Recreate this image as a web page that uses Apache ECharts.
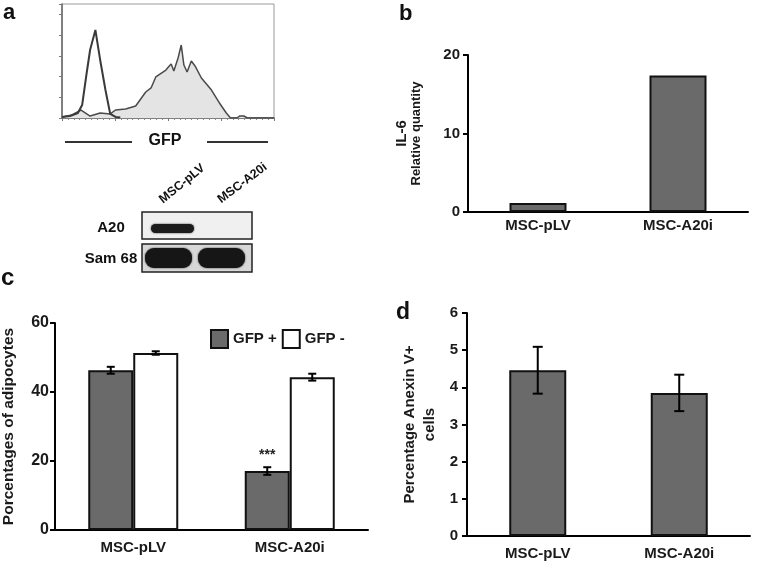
<!DOCTYPE html>
<html>
<head>
<meta charset="utf-8">
<script src="https://cdn.jsdelivr.net/npm/echarts@6/dist/echarts.min.js"></script>
<style>html,body{margin:0;padding:0;background:#fff}#c{width:757px;height:562px}</style>
</head>
<body>
<div id="c"></div>
<script>
// ---- Panel a: GFP flow histogram (x in log decades, y in counts) ----
const gfpDecade = [0, 0.19, 0.36, 0.53, 0.72, 0.91, 1.01, 1.2, 1.39, 1.58, 1.68, 1.77, 1.96, 2.02, 2.06, 2.11, 2.19, 2.25, 2.30, 2.36, 2.44, 2.51, 2.63, 2.82, 2.97, 3.10, 3.18, 3.30, 3.35, 3.43, 3.50, 4.0];
const gfpCount  = [10, 29, 77, 19, 48, 39, 77, 87, 116, 251, 290, 396, 463, 500, 521, 453, 579, 704, 511, 444, 550, 502, 386, 270, 145, 48, 0, 0, 19, 19, 0, 0];
const ctrlDecade = [0, 0.15, 0.30, 0.38, 0.46, 0.53, 0.63, 0.72, 0.82, 0.91, 1.01, 1.1];
const ctrlCount  = [10, 19, 48, 125, 415, 656, 849, 560, 270, 39, 10, 5];

// ---- Panel b: IL-6 relative quantity ----
const groups = ['MSC-pLV', 'MSC-A20i'];
const il6 = [1.15, 17.4];

// ---- Panel c: adipocytes ----
const gfpPlus = [46.3, 17.1];
const gfpPlusErr = [1.0, 1.1];
const gfpMinus = [51.3, 44.3];
const gfpMinusErr = [0.5, 1.0];
const cSeriesNames = ['GFP +', 'GFP -'];

// ---- Panel d: Annexin V+ ----
const annexin = [4.46, 3.85];
const annexinErr = [0.63, 0.49];

const FONT = "'Liberation Sans', Arial, sans-serif";
const BAR_FILL = '#6a6a6a';

function zip(a, b) { return a.map((v, i) => [v, b[i]]); }
function errData(vals, errs) { return vals.map((v, i) => [i, v - errs[i], v + errs[i]]); }
function errRender(offset, cap) {
  return function (params, api) {
    const x = api.value(0), lo = api.value(1), hi = api.value(2);
    const pTop = api.coord([x, hi]), pBot = api.coord([x, lo]);
    const cx = pTop[0] + offset;
    const st = { stroke: '#000', lineWidth: 2 };
    return { type: 'group', children: [
      { type: 'line', shape: { x1: cx, y1: pTop[1], x2: cx, y2: pBot[1] }, style: st },
      { type: 'line', shape: { x1: cx - cap, y1: pTop[1], x2: cx + cap, y2: pTop[1] }, style: st },
      { type: 'line', shape: { x1: cx - cap, y1: pBot[1], x2: cx + cap, y2: pBot[1] }, style: st }
    ]};
  };
}

const catAxisCommon = {
  type: 'category', data: groups,
  axisLine: { lineStyle: { color: '#000', width: 2 } },
  axisTick: { show: false },
  axisLabel: { color: '#1a1a1a', fontFamily: FONT, fontWeight: 'bold', fontSize: 15, margin: 9 }
};
const valAxisCommon = {
  type: 'value',
  axisLine: { show: true, lineStyle: { color: '#000', width: 2 } },
  axisTick: { show: true, length: 5, lineStyle: { color: '#000', width: 2 } },
  splitLine: { show: false },
  axisLabel: { color: '#1a1a1a', fontFamily: FONT, fontWeight: 'bold', fontSize: 15 }
};

const chart = echarts.init(document.getElementById('c'), null, { renderer: 'canvas' });
chart.setOption({
  animation: false,
  backgroundColor: '#fff',
  textStyle: { fontFamily: FONT },
  grid: [
    { left: 62, top: 4, width: 212, height: 114, show: true, borderColor: '#9a9a9a', borderWidth: 1 },
    { left: 468, top: 55, width: 280, height: 157 },
    { left: 50, top: 323, width: 318, height: 207 },
    { left: 467, top: 313, width: 283, height: 223 }
  ],
  legend: {
    data: cSeriesNames, left: 210, top: 329, padding: 0, itemWidth: 17, itemHeight: 18, itemGap: 5,
    icon: 'rect',
    textStyle: { fontFamily: FONT, fontWeight: 'bold', fontSize: 15, color: '#1a1a1a' }
  },
  xAxis: [
    { gridIndex: 0, type: 'value', min: 0, max: 4, interval: 1,
      axisLine: { lineStyle: { color: '#666', width: 1.5 } },
      axisTick: { length: 3, lineStyle: { color: '#777' } },
      minorTick: { show: true, splitNumber: 9, length: 2, lineStyle: { color: '#888' } },
      axisLabel: { show: false }, splitLine: { show: false } },
    Object.assign({ gridIndex: 1 }, catAxisCommon, { axisLabel: Object.assign({}, catAxisCommon.axisLabel, { margin: 6 }) }),
    Object.assign({ gridIndex: 2 }, catAxisCommon, { axisLabel: Object.assign({}, catAxisCommon.axisLabel, { margin: 10 }) }),
    Object.assign({ gridIndex: 3 }, catAxisCommon, { axisLabel: Object.assign({}, catAxisCommon.axisLabel, { margin: 10 }) })
  ],
  yAxis: [
    { gridIndex: 0, type: 'value', min: 0, max: 1100, interval: 200,
      axisLine: { show: true, lineStyle: { color: '#666', width: 1.5 } },
      axisTick: { show: true, length: 3, lineStyle: { color: '#777' } },
      axisLabel: { show: false }, splitLine: { show: false } },
    Object.assign({ gridIndex: 1 }, valAxisCommon, {
      min: 0, max: 20, interval: 10,
      axisLabel: Object.assign({}, valAxisCommon.axisLabel, { margin: 8 }),
      name: '{a|IL-6}\n{b|Relative quantity}', nameLocation: 'middle', nameGap: 45, nameRotate: 90,
      nameTextStyle: { color: '#1a1a1a', rich: {
        a: { fontFamily: FONT, fontWeight: 'bold', fontSize: 15, lineHeight: 14, color: '#1a1a1a' },
        b: { fontFamily: FONT, fontWeight: 'bold', fontSize: 13, lineHeight: 14, color: '#1a1a1a' } } }
    }),
    Object.assign({ gridIndex: 2 }, valAxisCommon, {
      min: 0, max: 60, interval: 20,
      axisLabel: Object.assign({}, valAxisCommon.axisLabel, { fontSize: 16, margin: 6 }),
      name: 'Porcentages of adipocytes', nameLocation: 'middle', nameGap: 38, nameRotate: 90,
      nameTextStyle: { fontFamily: FONT, fontWeight: 'bold', fontSize: 15.5, color: '#1a1a1a' }
    }),
    Object.assign({ gridIndex: 3 }, valAxisCommon, {
      min: 0, max: 6, interval: 1,
      axisLabel: Object.assign({}, valAxisCommon.axisLabel, { margin: 9 }),
      name: 'Percentage Anexin V+\ncells', nameLocation: 'middle', nameGap: 27, nameRotate: 90,
      nameTextStyle: { fontFamily: FONT, fontWeight: 'bold', fontSize: 15, lineHeight: 20, color: '#1a1a1a' }
    })
  ],
  series: [
    { type: 'line', xAxisIndex: 0, yAxisIndex: 0, data: zip(gfpDecade, gfpCount), symbol: 'none',
      lineStyle: { color: '#4a4a4a', width: 1.5 }, areaStyle: { color: '#e4e4e4', opacity: 1 }, z: 2 },
    { type: 'line', xAxisIndex: 0, yAxisIndex: 0, data: zip(ctrlDecade, ctrlCount), symbol: 'none',
      lineStyle: { color: '#3a3a3a', width: 2 }, z: 3 },

    { type: 'bar', xAxisIndex: 1, yAxisIndex: 1, data: il6, barWidth: 57,
      itemStyle: { color: BAR_FILL, borderColor: '#111', borderWidth: 2 } },

    { name: cSeriesNames[0], type: 'bar', xAxisIndex: 2, yAxisIndex: 2, barWidth: 45, barGap: '0%',
      itemStyle: { color: BAR_FILL, borderColor: '#111', borderWidth: 2 },
      data: gfpPlus.map((v, i) => i === 1 ? { value: v, label: { show: true, position: 'top', distance: 9, formatter: '***',
        fontFamily: FONT, fontWeight: 'bold', fontSize: 14, color: '#222' } } : v) },
    { name: cSeriesNames[1], type: 'bar', xAxisIndex: 2, yAxisIndex: 2, barWidth: 45, barGap: '0%',
      itemStyle: { color: '#fff', borderColor: '#111', borderWidth: 2 }, data: gfpMinus },
    { type: 'custom', xAxisIndex: 2, yAxisIndex: 2, renderItem: errRender(-22.5, 4), encode: { x: 0, y: [1, 2] },
      data: errData(gfpPlus, gfpPlusErr), z: 5 },
    { type: 'custom', xAxisIndex: 2, yAxisIndex: 2, renderItem: errRender(22.5, 4), encode: { x: 0, y: [1, 2] },
      data: errData(gfpMinus, gfpMinusErr), z: 5 },

    { type: 'bar', xAxisIndex: 3, yAxisIndex: 3, data: annexin, barWidth: 57,
      itemStyle: { color: BAR_FILL, borderColor: '#111', borderWidth: 2 } },
    { type: 'custom', xAxisIndex: 3, yAxisIndex: 3, renderItem: errRender(0, 5), encode: { x: 0, y: [1, 2] },
      data: errData(annexin, annexinErr), z: 5 }
  ],
  graphic: [
    // panel letters
    { type: 'text', x: 3, y: 2, style: { text: 'a', font: 'bold 22px ' + FONT, fill: '#111' } },
    { type: 'text', x: 399, y: 3, style: { text: 'b', font: 'bold 22px ' + FONT, fill: '#111' } },
    { type: 'text', x: 1, y: 266, style: { text: 'c', font: 'bold 24px ' + FONT, fill: '#111' } },
    { type: 'text', x: 396, y: 301, style: { text: 'd', font: 'bold 23px ' + FONT, fill: '#111' } },
    // GFP axis caption
    { type: 'line', shape: { x1: 65, y1: 142, x2: 132, y2: 142 }, style: { stroke: '#333', lineWidth: 2 } },
    { type: 'line', shape: { x1: 207, y1: 142, x2: 268, y2: 142 }, style: { stroke: '#333', lineWidth: 2 } },
    { type: 'text', x: 165, y: 141, style: { text: 'GFP', font: 'bold 16px ' + FONT, fill: '#111', align: 'center', verticalAlign: 'middle' } },
    // western blot lane labels
    { type: 'text', x: 165, y: 206, rotation: 39 * Math.PI / 180,
      style: { text: 'MSC-pLV', font: 'bold 12.5px ' + FONT, fill: '#111', align: 'left', verticalAlign: 'bottom' } },
    { type: 'text', x: 223, y: 206, rotation: 37 * Math.PI / 180,
      style: { text: 'MSC-A20i', font: 'bold 12.5px ' + FONT, fill: '#111', align: 'left', verticalAlign: 'bottom' } },
    // blot row labels
    { type: 'text', x: 111, y: 228, style: { text: 'A20', font: 'bold 15px ' + FONT, fill: '#111', align: 'center', verticalAlign: 'middle' } },
    { type: 'text', x: 111, y: 259, style: { text: 'Sam 68', font: 'bold 15px ' + FONT, fill: '#111', align: 'center', verticalAlign: 'middle' } },
    // blot boxes
    { type: 'rect', shape: { x: 142, y: 212, width: 110, height: 27 }, style: { fill: '#f0f0f0', stroke: '#222', lineWidth: 1.5 } },
    { type: 'rect', shape: { x: 142, y: 244, width: 110, height: 28 }, style: { fill: '#d8d8d8', stroke: '#222', lineWidth: 1.5 } },
    { type: 'rect', shape: { x: 151, y: 224, width: 43, height: 9, r: 4.5 }, style: { fill: '#1c1c1c', shadowBlur: 2, shadowColor: '#333' } },
    { type: 'rect', shape: { x: 145, y: 248, width: 47, height: 20, r: 9 }, style: { fill: '#161616', shadowBlur: 2, shadowColor: '#333' } },
    { type: 'rect', shape: { x: 198, y: 248, width: 47, height: 20, r: 9 }, style: { fill: '#161616', shadowBlur: 2, shadowColor: '#333' } }
  ]
});
</script>
</body>
</html>
